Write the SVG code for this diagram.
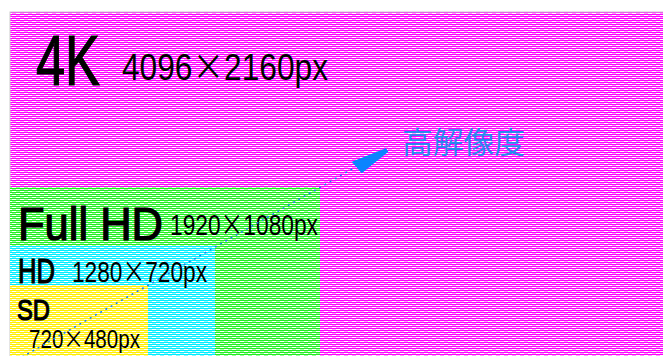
<svg xmlns="http://www.w3.org/2000/svg" width="663" height="356" viewBox="0 0 663 356">
<style>
.lbl{font-family:"Liberation Sans","DejaVu Sans",sans-serif;fill:#000}
.big{stroke:#000;stroke-width:1.2}
.x{font-family:"Noto Sans CJK JP","Noto Sans CJK SC",sans-serif}
.jp{font-family:"Noto Sans CJK JP","Noto Sans CJK SC",sans-serif;fill:#2a86f0}
</style>
<defs>
<pattern id="pM" width="8" height="4" patternUnits="userSpaceOnUse">
<rect width="8" height="4" fill="#ff00ff"/>
<rect x="0" y="1" width="4" height="1" fill="#ffffff"/>
<rect x="4" y="1" width="4" height="1" fill="#ff99ff"/>
<rect x="4" y="3" width="4" height="1" fill="#ffffff"/>
<rect x="0" y="3" width="4" height="1" fill="#ff99ff"/>
</pattern>
<pattern id="pG" width="8" height="4" patternUnits="userSpaceOnUse">
<rect width="8" height="4" fill="#22ee22"/>
<rect x="0" y="1" width="4" height="1" fill="#ffffff"/>
<rect x="4" y="1" width="4" height="1" fill="#99ff99"/>
<rect x="4" y="3" width="4" height="1" fill="#ffffff"/>
<rect x="0" y="3" width="4" height="1" fill="#99ff99"/>
</pattern>
<pattern id="pC" width="8" height="4" patternUnits="userSpaceOnUse">
<rect width="8" height="4" fill="#00eeff"/>
<rect x="0" y="1" width="4" height="1" fill="#ffffff"/>
<rect x="4" y="1" width="4" height="1" fill="#88f8ff"/>
<rect x="4" y="3" width="4" height="1" fill="#ffffff"/>
<rect x="0" y="3" width="4" height="1" fill="#88f8ff"/>
</pattern>
<pattern id="pY" width="8" height="4" patternUnits="userSpaceOnUse">
<rect width="8" height="4" fill="#ffee00"/>
<rect x="0" y="1" width="4" height="1" fill="#ffffff"/>
<rect x="4" y="1" width="4" height="1" fill="#fff888"/>
<rect x="4" y="3" width="4" height="1" fill="#ffffff"/>
<rect x="0" y="3" width="4" height="1" fill="#fff888"/>
</pattern>
</defs>
<rect width="663" height="356" fill="#fff"/>
<g id="node-4k">
<rect x="10" y="12" width="660" height="350" fill="url(#pM)" stroke="#cccccc" stroke-width="1"/>
<text class="lbl big" x="36" y="85" font-size="70" textLength="64" lengthAdjust="spacingAndGlyphs">4K</text>
<text class="lbl" x="122" y="80" font-size="36" textLength="206" lengthAdjust="spacingAndGlyphs">4096<tspan class="x">×</tspan>2160px</text>
</g>
<g id="node-fullhd">
<rect x="10" y="187" width="310" height="175" fill="url(#pG)"/>
<text class="lbl big" x="18" y="240" font-size="46" textLength="145" lengthAdjust="spacingAndGlyphs">Full HD</text>
<text class="lbl" x="170" y="235" font-size="30" textLength="148" lengthAdjust="spacingAndGlyphs">1920<tspan class="x">×</tspan>1080px</text>
</g>
<g id="node-hd">
<rect x="10" y="246" width="205" height="116" fill="url(#pC)"/>
<text class="lbl big" x="18" y="283" font-size="35" textLength="37" lengthAdjust="spacingAndGlyphs">HD</text>
<text class="lbl" x="72" y="282" font-size="30" textLength="135" lengthAdjust="spacingAndGlyphs">1280<tspan class="x">×</tspan>720px</text>
</g>
<g id="node-sd">
<rect x="10" y="285" width="138" height="77" fill="url(#pY)"/>
<text class="lbl big" x="17" y="320" font-size="30" textLength="33" lengthAdjust="spacingAndGlyphs">SD</text>
<text class="lbl" x="29" y="348" font-size="25" textLength="111" lengthAdjust="spacingAndGlyphs">720<tspan class="x">×</tspan>480px</text>
</g>
<g id="connectors">
<line x1="22" y1="357" x2="354" y2="168" stroke="#1a7ff0" stroke-width="1.5" stroke-dasharray="2 4"/>
<polygon points="351.7,161.7 386,148.3 388.3,151.7 361.7,173.3" fill="#0a84ff"/>
</g>
<g id="label-hires">
<text class="jp" x="402" y="153" font-size="30" textLength="123" lengthAdjust="spacingAndGlyphs">高解像度</text>
</g>
</svg>
